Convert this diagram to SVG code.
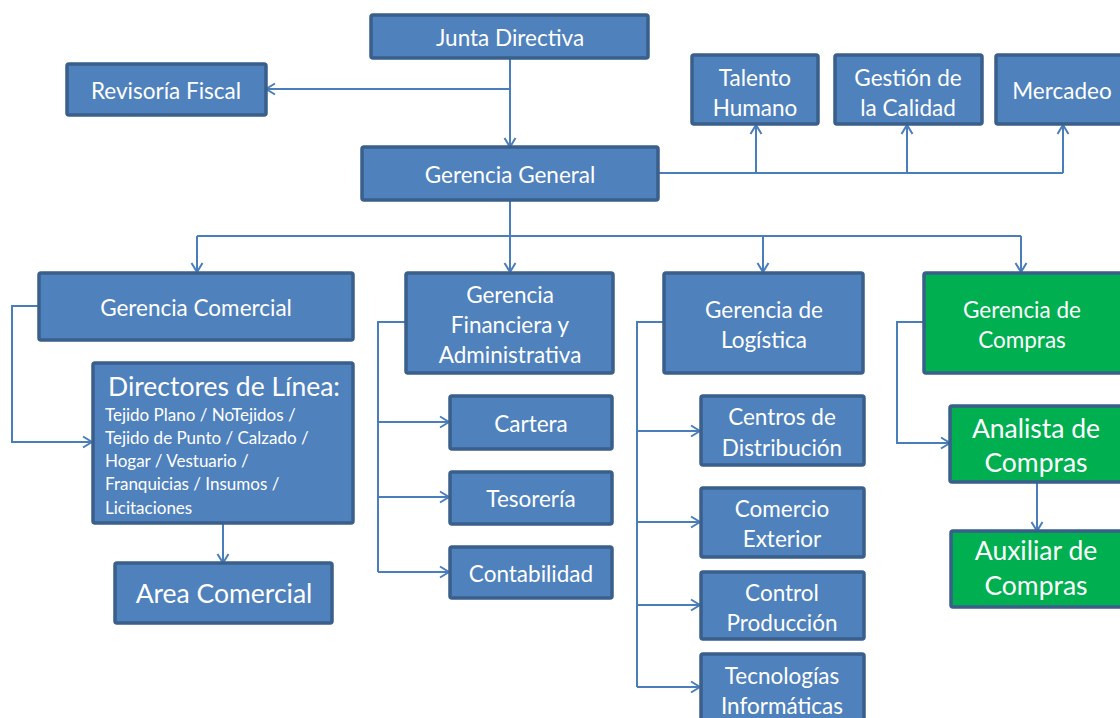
<svg xmlns="http://www.w3.org/2000/svg" width="1120" height="718" viewBox="0 0 1120 718">
  <defs>
    <marker id="arr" markerWidth="14" markerHeight="14" refX="12" refY="7" orient="auto" markerUnits="userSpaceOnUse">
      <path d="M3,1.5 L12,7 L3,12.5" fill="none" stroke="#4a7ebb" stroke-width="2"/>
    </marker>
    <style>
      .box { fill: #4f81bd; stroke: #3a5f8b; stroke-width: 3.5; }
      .green { fill: #00b050; stroke: #3a5f8b; stroke-width: 3.5; }
      .t { font-family: Lato, "Open Sans", sans-serif; fill: #ffffff; font-size: 22.5px; text-anchor: middle; dominant-baseline: central; }
      .big { font-size: 26.5px; }
      .small { font-size: 17px; text-anchor: start; }
      .ln { fill: none; stroke: #4a7ebb; stroke-width: 2; }
      .ar { marker-end: url(#arr); }
    </style>
  </defs>
  <rect width="1120" height="718" fill="#ffffff"/>

  <!-- connectors -->
  <g id="connectors">
    <!-- Junta Directiva to Gerencia General and Revisoria Fiscal -->
    <path class="ln ar" d="M510,58 V147"/>
    <path class="ln ar" d="M510,89 H266"/>
    <!-- Gerencia General to staff units -->
    <path class="ln" d="M658,173 H1063"/>
    <path class="ln ar" d="M756,173 V125"/>
    <path class="ln ar" d="M907,173 V125"/>
    <path class="ln ar" d="M1063,173 V125"/>
    <!-- Gerencia General to managements -->
    <path class="ln" d="M510,200 V236 M197,236 H1021"/>
    <path class="ln ar" d="M197,236 V272"/>
    <path class="ln ar" d="M510,236 V272"/>
    <path class="ln ar" d="M763,236 V272"/>
    <path class="ln ar" d="M1021,236 V272"/>
    <!-- Comercial branch -->
    <path class="ln ar" d="M39,306 H12 V442 H92"/>
    <path class="ln ar" d="M223,523 V563"/>
    <!-- Financiera branch -->
    <path class="ln" d="M406,322 H378 V572"/>
    <path class="ln ar" d="M378,422 H449"/>
    <path class="ln ar" d="M378,497 H449"/>
    <path class="ln ar" d="M378,572 H449"/>
    <!-- Logistica branch -->
    <path class="ln" d="M664,322 H637 V687"/>
    <path class="ln ar" d="M637,431 H700"/>
    <path class="ln ar" d="M637,522 H700"/>
    <path class="ln ar" d="M637,605 H700"/>
    <path class="ln ar" d="M637,687 H700"/>
    <!-- Compras branch -->
    <path class="ln ar" d="M924,322 H897 V443 H950"/>
    <path class="ln ar" d="M1037,482 V531"/>
  </g>

  <g id="junta">
    <rect class="box" x="371" y="15" width="277" height="43" rx="2"/>
    <text class="t" x="510" y="37">Junta Directiva</text>
  </g>
  <g id="revisoria">
    <rect class="box" x="67" y="64" width="199" height="51" rx="2"/>
    <text class="t" x="166" y="90">Revisoría Fiscal</text>
  </g>
  <g id="talento">
    <rect class="box" x="692" y="55" width="126" height="69" rx="2"/>
    <text class="t" x="755" y="77">Talento</text>
    <text class="t" x="755" y="107">Humano</text>
  </g>
  <g id="calidad">
    <rect class="box" x="835" y="55" width="147" height="69" rx="2"/>
    <text class="t" x="908" y="77">Gestión de</text>
    <text class="t" x="908" y="107">la Calidad</text>
  </g>
  <g id="mercadeo">
    <rect class="box" x="996" y="55" width="130" height="69" rx="2"/>
    <text class="t" x="1062" y="90">Mercadeo</text>
  </g>
  <g id="general">
    <rect class="box" x="362" y="147" width="296" height="53" rx="2"/>
    <text class="t" x="510" y="174">Gerencia General</text>
  </g>
  <g id="comercial">
    <rect class="box" x="39" y="273" width="314" height="67" rx="2"/>
    <text class="t" x="196" y="307">Gerencia Comercial</text>
  </g>
  <g id="directores">
    <rect class="box" x="93" y="363" width="260" height="160" rx="2"/>
    <text class="t big" x="224" y="386">Directores de Línea:</text>
    <text class="t small" x="105" y="414">Tejido Plano / NoTejidos /</text>
    <text class="t small" x="105" y="437">Tejido de Punto / Calzado /</text>
    <text class="t small" x="105" y="460">Hogar / Vestuario /</text>
    <text class="t small" x="105" y="483">Franquicias / Insumos /</text>
    <text class="t small" x="105" y="507">Licitaciones</text>
  </g>
  <g id="area">
    <rect class="box" x="115" y="563" width="217" height="60" rx="2"/>
    <text class="t big" x="224" y="593">Area Comercial</text>
  </g>
  <g id="financiera">
    <rect class="box" x="406" y="273" width="207" height="100" rx="2"/>
    <text class="t" x="510" y="294">Gerencia</text>
    <text class="t" x="510" y="324">Financiera y</text>
    <text class="t" x="510" y="354">Administrativa</text>
  </g>
  <g id="cartera">
    <rect class="box" x="450" y="396" width="162" height="53" rx="2"/>
    <text class="t" x="531" y="423">Cartera</text>
  </g>
  <g id="tesoreria">
    <rect class="box" x="450" y="472" width="162" height="52" rx="2"/>
    <text class="t" x="531" y="498">Tesorería</text>
  </g>
  <g id="contabilidad">
    <rect class="box" x="450" y="547" width="162" height="51" rx="2"/>
    <text class="t" x="531" y="573">Contabilidad</text>
  </g>
  <g id="logistica">
    <rect class="box" x="664" y="273" width="199" height="100" rx="2"/>
    <text class="t" x="764" y="309">Gerencia  de</text>
    <text class="t" x="764" y="339">Logística</text>
  </g>
  <g id="centros">
    <rect class="box" x="701" y="396" width="163" height="69" rx="2"/>
    <text class="t" x="782" y="416">Centros de</text>
    <text class="t" x="782" y="447">Distribución</text>
  </g>
  <g id="exterior">
    <rect class="box" x="701" y="488" width="163" height="69" rx="2"/>
    <text class="t" x="782" y="508">Comercio</text>
    <text class="t" x="782" y="538">Exterior</text>
  </g>
  <g id="produccion">
    <rect class="box" x="701" y="572" width="163" height="67" rx="2"/>
    <text class="t" x="782" y="592">Control</text>
    <text class="t" x="782" y="622">Producción</text>
  </g>
  <g id="tecnologias">
    <rect class="box" x="701" y="654" width="163" height="70" rx="2"/>
    <text class="t" x="782" y="675">Tecnologías</text>
    <text class="t" x="782" y="705">Informáticas</text>
  </g>
  <g id="compras">
    <rect class="green" x="924" y="273" width="200" height="100" rx="2"/>
    <text class="t" x="1022" y="309">Gerencia  de</text>
    <text class="t" x="1022" y="339">Compras</text>
  </g>
  <g id="analista">
    <rect class="green" x="950" y="406" width="174" height="76" rx="2"/>
    <text class="t big" x="1036" y="428">Analista de</text>
    <text class="t big" x="1036" y="462">Compras</text>
  </g>
  <g id="auxiliar">
    <rect class="green" x="951" y="531" width="173" height="76" rx="2"/>
    <text class="t big" x="1036" y="550">Auxiliar de</text>
    <text class="t big" x="1036" y="585">Compras</text>
  </g>
</svg>
